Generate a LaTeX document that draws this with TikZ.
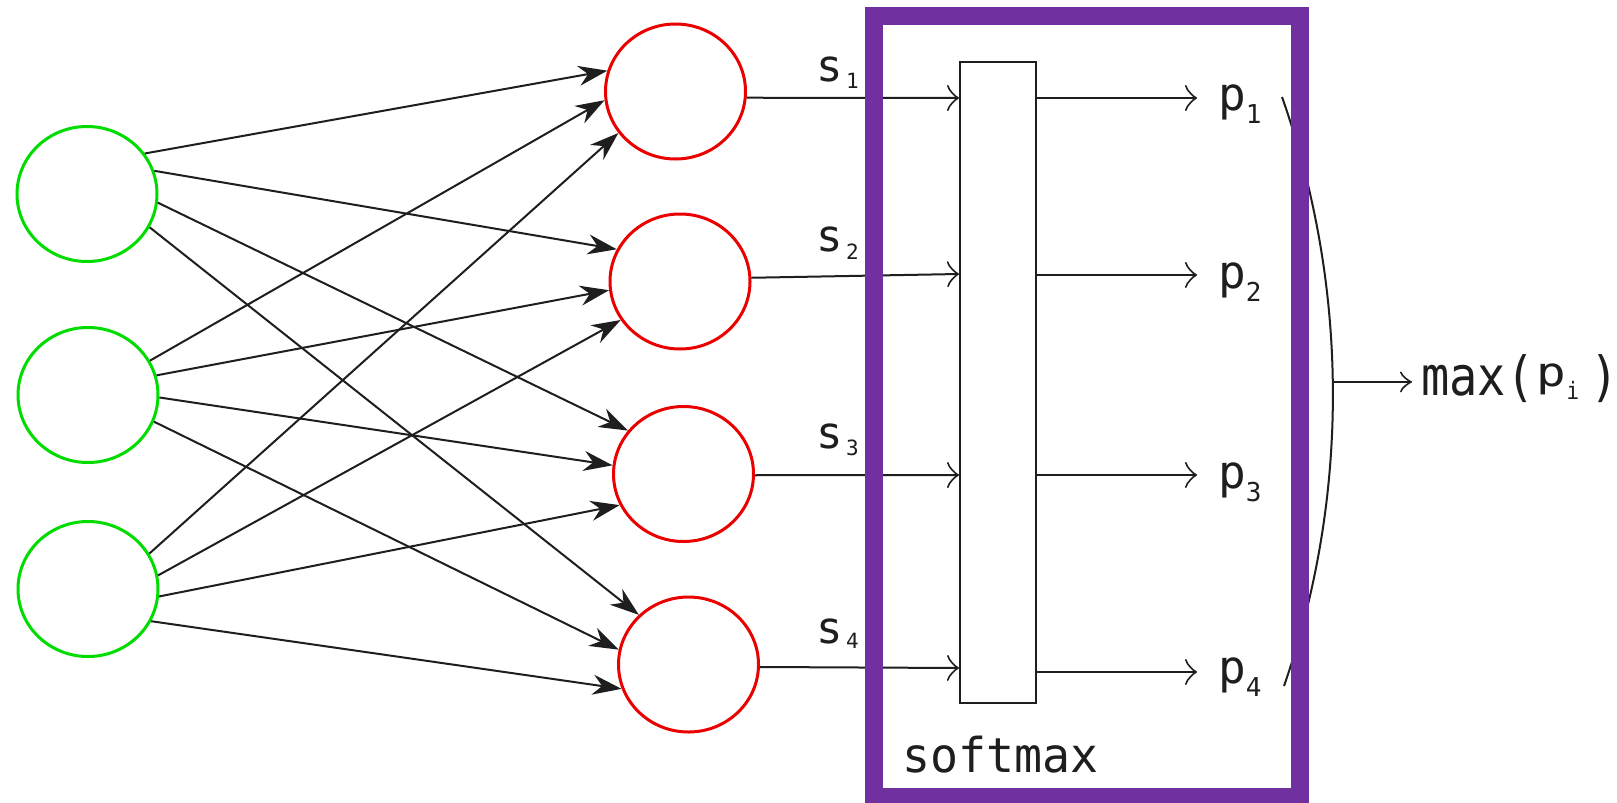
\documentclass[tikz,border=0pt]{standalone}
\usepackage{fontspec}
\usetikzlibrary{arrows.meta,shapes.geometric}
\newfontfamily\monolbl{DejaVu Sans Mono}
\definecolor{nngreen}{RGB}{0,220,0}
\definecolor{nnred}{RGB}{235,0,0}
\definecolor{framepurple}{RGB}{112,48,160}
\definecolor{ink}{RGB}{30,30,30}
% lowered index: raise, size, text
\newcommand\lowidx[3]{\raisebox{#1}{\fontsize{#2}{#2}\selectfont #3}}

\tikzset{
  unit/.style={ellipse, line width=3pt, minimum width=140pt, minimum height=135pt, inner sep=0pt},
  inunit/.style={unit, draw=nngreen},
  outunit/.style={unit, draw=nnred},
  weight/.style={draw=ink, line width=2pt, -{Stealth[length=29pt,width=20pt]}},
  flow/.style={draw=ink, line width=2pt, -{Classical TikZ Rightarrow[length=12pt,width=26pt]}},
  flowsmall/.style={draw=ink, line width=2pt, -{Classical TikZ Rightarrow[length=12pt,width=21pt]}},
  slbl/.style={anchor=base west, inner sep=0pt, text=ink, font={\monolbl\fontsize{44pt}{48pt}\selectfont}},
  plbl/.style={anchor=base west, inner sep=0pt, text=ink, font={\monolbl\fontsize{46pt}{50pt}\selectfont}},
  softbox/.style={rectangle, draw=ink, fill=white, line width=2pt, minimum width=75.5pt, minimum height=641pt, inner sep=0pt},
}

\begin{document}
\begin{tikzpicture}[x=1pt,y=-1pt]
\useasboundingbox (0,0) rectangle (1617,803);
\fill[white] (0,0) rectangle (1617,803);

% input layer
\node[inunit] (g1) at (87,194) {};
\node[inunit] (g2) at (88,395) {};
\node[inunit] (g3) at (88,589) {};

% score layer
\node[outunit] (r1) at (675.5,91.5) {};
\node[outunit] (r2) at (680,281.5) {};
\node[outunit] (r3) at (683.5,474) {};
\node[outunit] (r4) at (688.5,664.5) {};

% fully connected weights
\foreach \a/\b/\c/\d in {g1/35/r1/163, g1/19/r2/153, g1/-7/r3/142, g1/-28/r4/135,
                         g2/29/r1/187, g2/16/r2/187, g2/-2/r3/173, g2/-22/r4/168,
                         g3/30/r1/216, g3/11/r2/213, g3/-6/r3/206, g3/-27/r4/200}
  \draw[weight] (\a.\b) -- (\c.\d);

% softmax block
\node[softbox] (sm) at (997.75,382.5) {};
\node[anchor=base west, inner sep=0pt, text=ink, font={\monolbl\fontsize{48pt}{52pt}\selectfont}] (smlbl) at (902,772)
  {\scalebox{0.97}[1]{softmax}};

% scores into softmax
\draw[flow] (r1.-5) -- (sm.west |- 0,98);
\draw[flow] (r2.3) -- (sm.west |- 0,274);
\draw[flow] (r3.-1) -- (sm.west |- 0,475);
\draw[flow] (r4.-2) -- (sm.west |- 0,668);

\node[slbl] (s1) at (816,81)  {s\hspace{3.5pt}\lowidx{-7pt}{21pt}{1}};
\node[slbl] (s2) at (816,251) {s\hspace{3.5pt}\lowidx{-8pt}{21pt}{2}};
\node[slbl] (s3) at (816,448) {s\hspace{3.5pt}\lowidx{-7pt}{21pt}{3}};
\node[slbl] (s4) at (816,643) {s\hspace{3.5pt}\lowidx{-5pt}{21pt}{4}};

% probabilities out of softmax
\coordinate (t1) at (1197,98);
\coordinate (t2) at (1197,275);
\coordinate (t3) at (1197,475);
\coordinate (t4) at (1197,672);
\draw[flow] (sm.east |- t1) -- (t1);
\draw[flow] (sm.east |- t2) -- (t2);
\draw[flow] (sm.east |- t3) -- (t3);
\draw[flow] (sm.east |- t4) -- (t4);

\node[plbl] (p1) at (1218,110) {p\lowidx{-13pt}{26pt}{1}};
\node[plbl] (p2) at (1218,288) {p\lowidx{-13pt}{26pt}{2}};
\node[plbl] (p3) at (1218,488) {p\lowidx{-13pt}{26pt}{3}};
\node[plbl] (p4) at (1218,683) {p\lowidx{-13pt}{26pt}{4}};

% bracket gathering the probabilities
\coordinate (bt) at (1282,97);
\coordinate (bb) at (1284,686);
\draw[draw=ink, line width=2pt] (bt) .. controls (1349,287) and (1350,496) .. (bb)
  coordinate[pos=0.484] (bm);

\node[anchor=base west, inner sep=0pt, text=ink, font={\monolbl\fontsize{54pt}{58pt}\selectfont}] (mx) at (1412,395)
  {\hspace*{9pt}\scalebox{0.87}[1]{max(\hspace{3pt}\raisebox{0.15em}{\scalebox{1.05}[0.75]{p}}\lowidx{-4pt}{24pt}{i}\hspace{13pt})}};
\draw[flowsmall] (bm) -- (bm -| mx.west);

% highlight frame around the softmax stage
\draw[draw=framepurple, line width=18pt] (874,16) rectangle (1300,797);
\end{tikzpicture}
\end{document}
